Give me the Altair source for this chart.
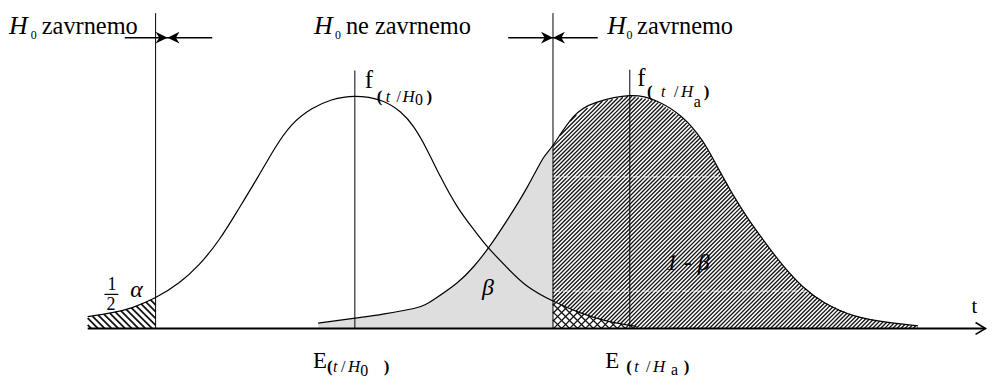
import numpy as np
import pandas as pd
import altair as alt

# ---------------- values ----------------
# density of t under H0 (relative height, peak = 1), t in units of sigma
h0_t = [-2.40, -2.18, -2.00, -1.79, -1.58, -1.40, -1.22, -1.05, -0.87, -0.72, -0.57, -0.39, -0.21, 0.00,
        0.24, 0.41, 0.53, 0.65, 0.77, 0.92, 1.07, 1.20, 1.37, 1.55, 1.78, 2.02, 2.26, 2.53]
h0_d = [0.051, 0.068, 0.090, 0.133, 0.197, 0.275, 0.382, 0.510, 0.653, 0.775, 0.875, 0.945, 0.984, 1.000,
        0.981, 0.932, 0.867, 0.768, 0.653, 0.525, 0.425, 0.347, 0.261, 0.182, 0.118, 0.068, 0.033, 0.009]
# density of t under Ha
ha_t = [-0.33, 0.12, 0.24, 0.53, 0.71, 0.92, 1.07, 1.20, 1.37, 1.55, 1.69, 1.78, 1.96, 2.17, 2.47,
        2.71, 2.94, 3.12, 3.24, 3.39, 3.54, 3.69, 3.84, 4.02, 4.22, 4.49, 4.79, 5.06]
ha_d = [0.023, 0.052, 0.061, 0.086, 0.125, 0.197, 0.268, 0.347, 0.468, 0.610, 0.732, 0.789, 0.910, 0.974, 1.003,
        0.980, 0.910, 0.810, 0.711, 0.582, 0.468, 0.368, 0.275, 0.182, 0.111, 0.054, 0.026, 0.011]
t_crit = [-1.79, 1.78]          # critical values
mean_h0 = 0.0                   # E(t/H0)
mean_ha = 2.47                  # E(t/Ha)
gap_levels = [0.653, 0.161]     # light dashed lines inside the 1-beta region

# ---------------- scales ----------------
W, H = 985, 370
T_DOM = [-3.116, 5.679]
D_DOM = [-0.2085, 1.3754]
KX = W / (T_DOM[1] - T_DOM[0])   # px per t unit
KY = H / (D_DOM[1] - D_DOM[0])   # px per density unit
FONT = "Liberation Serif"
INTERP = "natural"

xsc = alt.Scale(domain=T_DOM, nice=False, zero=False)
ysc = alt.Scale(domain=D_DOM, nice=False, zero=False)


def X(f):
    return alt.X(f"{f}:Q", scale=xsc, axis=None)


def Y(f):
    return alt.Y(f"{f}:Q", scale=ysc, axis=None)


def f_h0(tt):
    return np.interp(tt, h0_t, h0_d, left=0, right=0)


def f_ha(tt):
    return np.interp(tt, ha_t, ha_d, left=0, right=0)


def f_zero(tt):
    return np.zeros_like(tt)


def hatch_segments(t0, t1, upper, lower, spacing, sign):
    xs = np.arange(t0 * KX, t1 * KX + 0.001, 0.25)
    tt = xs / KX
    up = upper(tt) * KY
    lo = lower(tt) * KY
    hmax = up.max()
    if sign > 0:
        cs = np.arange(np.floor((xs[0] - hmax) / spacing) * spacing, xs[-1] + spacing, spacing)
    else:
        cs = np.arange(np.floor(xs[0] / spacing) * spacing, xs[-1] + hmax + spacing, spacing)
    rows = []
    for c in cs:
        h = sign * (xs - c)
        inside = (h >= lo) & (h <= up)
        if not inside.any():
            continue
        edges = np.diff(np.concatenate([[0], inside.astype(int), [0]]))
        starts = np.where(edges == 1)[0]
        ends = np.where(edges == -1)[0] - 1
        for s, e in zip(starts, ends):
            if e <= s:
                continue
            rows.append(dict(t=xs[s] / KX, d=h[s] / KY, t2=xs[e] / KX, d2=h[e] / KY))
    return pd.DataFrame(rows)


def seg_layer(df, color, width):
    return alt.Chart(df).mark_rule(color=color, strokeWidth=width).encode(
        x=X("t"), y=Y("d"), x2=alt.X2("t2:Q"), y2=alt.Y2("d2:Q"))


layers = []

# beta region (light stipple look)
beta_df = pd.DataFrame({"t": ha_t, "d": ha_d})
beta_df = beta_df[beta_df.t <= t_crit[1] + 0.005].assign(z=0.0)
layers.append(alt.Chart(beta_df).mark_area(interpolate=INTERP, color="#dedede").encode(
    x=X("t"), y=Y("d"), y2=alt.Y2("z:Q")))

# 1/2 alpha hatch
layers.append(seg_layer(hatch_segments(h0_t[0], t_crit[0], f_h0, f_zero, 6.8, -1), "#111", 1.8))
# 1 - beta hatch (above the H0 curve)
layers.append(seg_layer(hatch_segments(t_crit[1], ha_t[-1], f_ha, f_h0, 4.1, +1), "#151515", 1.35))
# cross hatch where both tails overlap
layers.append(seg_layer(hatch_segments(t_crit[1], h0_t[-1], f_h0, f_zero, 8.0, +1), "#111", 1.3))
layers.append(seg_layer(hatch_segments(t_crit[1], h0_t[-1], f_h0, f_zero, 8.0, -1), "#111", 1.3))

# light dashed gaps inside 1-beta
rt = [t for t in ha_t if t >= mean_ha]
rd = [d for t, d in zip(ha_t, ha_d) if t >= mean_ha]
gap_df = pd.DataFrame({"t": [t_crit[1]] * len(gap_levels),
                       "t2": [float(np.interp(g, rd[::-1], rt[::-1])) for g in gap_levels],
                       "d": gap_levels})
layers.append(alt.Chart(gap_df).mark_rule(color="white", strokeWidth=1.2, strokeDash=[7, 3], opacity=0.75).encode(
    x=X("t"), x2=alt.X2("t2:Q"), y=Y("d")))

# density curves
curves = pd.concat([pd.DataFrame({"t": h0_t, "d": h0_d, "c": "H0"}),
                    pd.DataFrame({"t": ha_t, "d": ha_d, "c": "Ha"})])
layers.append(alt.Chart(curves).mark_line(interpolate=INTERP, color="black", strokeWidth=1.2).encode(
    x=X("t"), y=Y("d"), detail="c:N"))

# vertical lines: critical values and expectations
vert = pd.DataFrame({
    "t": [t_crit[0], t_crit[1], mean_h0, mean_ha],
    "d": [0, 0, 0, 0],
    "d2": [317.3 / KY, 317.3 / KY, max(h0_d) + 26 / KY, max(ha_d) + 26 / KY],
})
layers.append(alt.Chart(vert).mark_rule(color="black", strokeWidth=1).encode(
    x=X("t"), y=Y("d"), y2=alt.Y2("d2:Q")))

# t axis with arrow
T_END = T_DOM[1] - 1.5 / KX
axis_df = pd.DataFrame({"t": [h0_t[0]], "t2": [T_END], "d": [0.0]})
layers.append(alt.Chart(axis_df).mark_rule(color="black", strokeWidth=2).encode(
    x=X("t"), x2=alt.X2("t2:Q"), y=Y("d")))
layers.append(alt.Chart(pd.DataFrame({"t": [T_END], "d": [0.0]})).mark_point(
    shape="M-2,-1.2L0,0L-2,1.2", filled=False, size=100, color="black", strokeWidth=1.6, opacity=1).encode(
    x=X("t"), y=Y("d")))

# region arrows at the top
ARROW_D = 292.6 / KY
meet = [t_crit[0] + 12 / KX, t_crit[1]]
arr_df = pd.DataFrame({"t": [meet[0] - 43 / KX, meet[1] - 45 / KX],
                       "t2": [meet[0] + 45 / KX, meet[1] + 45 / KX],
                       "d": [ARROW_D, ARROW_D]})
layers.append(alt.Chart(arr_df).mark_rule(color="black", strokeWidth=1.5).encode(
    x=X("t"), x2=alt.X2("t2:Q"), y=Y("d")))
heads = pd.DataFrame({"t": meet, "d": [ARROW_D, ARROW_D]})
for shp in ["M0,0L-2,-1L-1.4,0L-2,1Z", "M0,0L2,-1L1.4,0L2,1Z"]:
    layers.append(alt.Chart(heads).mark_point(shape=shp, filled=True, size=144, color="black", opacity=1).encode(
        x=X("t"), y=Y("d")))

# fraction bar of 1/2
frac_df = pd.DataFrame({"t": [t_crit[0] - 51.5 / KX], "t2": [t_crit[0] - 37.5 / KX], "d": [34.3 / KY]})
layers.append(alt.Chart(frac_df).mark_rule(color="black", strokeWidth=1.2).encode(
    x=X("t"), x2=alt.X2("t2:Q"), y=Y("d")))

# ---------------- text pieces (anchor t, dx px, height above axis px, size, italic, bold) ----------------
A_L, A_R = t_crit
pieces = [
    ("H", A_L, -147.5, 295.8, 26, True, False), ("0", A_L, -125.5, 291.3, 12, False, False),
    ("zavrnemo", A_L, -114.5, 295.8, 24.5, False, False),
    ("H", mean_h0, -41, 295.8, 26, True, False), ("0", mean_h0, -20, 291.3, 12, False, False),
    ("ne zavrnemo", mean_h0, -9, 295.8, 24.5, False, False),
    ("H", A_R, 54.6, 295.8, 26, True, False), ("0", A_R, 74.0, 291.3, 12, False, False),
    ("zavrnemo", A_R, 84.6, 295.8, 24.5, False, False),
    # f(t/H0)
    ("f", mean_h0, 10, 242.3, 25, False, False), ("(", mean_h0, 22, 228.3, 17, False, True),
    ("t", mean_h0, 31, 228.3, 16, True, False), ("/", mean_h0, 42, 228.3, 16, False, False),
    ("H", mean_h0, 48, 228.3, 17, True, False), ("0", mean_h0, 60.5, 225.3, 16, False, False),
    (")", mean_h0, 72, 228.3, 17, False, True),
    # f(t/Ha)
    ("f", mean_ha, 7.4, 244.3, 25, False, False), ("(", mean_ha, 17.4, 233.3, 17, False, True),
    ("t", mean_ha, 31.4, 233.3, 16, True, False), ("/", mean_ha, 44.4, 233.3, 16, False, False),
    ("H", mean_ha, 51.4, 233.3, 17, True, False), ("a", mean_ha, 64.4, 223.3, 16, False, False),
    (")", mean_ha, 74.4, 233.3, 17, False, True),
    # E(t/H0)
    ("E", mean_h0, -42, -39.7, 23, False, False), ("(", mean_h0, -28, -43.7, 17, False, True),
    ("t", mean_h0, -22, -43.7, 16, True, False), ("/", mean_h0, -14, -43.7, 16, False, False),
    ("H", mean_h0, -7, -43.7, 17, True, False), ("0", mean_h0, 5.5, -47.7, 16, False, False),
    (")", mean_h0, 29, -43.7, 17, False, True),
    # E(t/Ha)
    ("E", mean_ha, -24.6, -39.7, 23, False, False), ("(", mean_ha, -3.6, -43.7, 17, False, True),
    ("t", mean_ha, 4.4, -43.7, 16, True, False), ("/", mean_ha, 16.4, -43.7, 16, False, False),
    ("H", mean_ha, 23.4, -43.7, 17, True, False), ("a", mean_ha, 41.4, -46.7, 16, False, False),
    (")", mean_ha, 54.4, -43.7, 17, False, True),
    # areas
    ("β", mean_h0, 128, 33.3, 24, True, False),
    ("1 - β", mean_ha, 36.4, 59.3, 24, True, False),
    ("1", A_L, -48.5, 38.3, 18, False, False), ("2", A_L, -49.5, 18.3, 18, False, False),
    ("α", A_L, -25.5, 31.3, 24, True, False),
    ("t", T_END, -14, 15.3, 21, False, False),
]
txt = pd.DataFrame([dict(text=p[0], t=p[1] + p[2] / KX, d=p[3] / KY, size=p[4], it=p[5], bd=p[6])
                    for p in pieces])
for it in [False, True]:
    for bd in [False, True]:
        sub = txt[(txt.it == it) & (txt.bd == bd)]
        if sub.empty:
            continue
        layers.append(alt.Chart(sub).mark_text(
            align="left", baseline="alphabetic", font=FONT, color="black",
            fontStyle="italic" if it else "normal", fontWeight="bold" if bd else "normal").encode(
            x=X("t"), y=Y("d"), text="text:N", size=alt.Size("size:Q", scale=None, legend=None)))

chart = alt.layer(*layers).properties(
    width=W, height=H, padding=0, autosize=alt.AutoSizeParams(type="none"),
    background="white").configure_view(stroke=None)

chart.save("out.html", embed_options={"renderer": "svg", "actions": False})
